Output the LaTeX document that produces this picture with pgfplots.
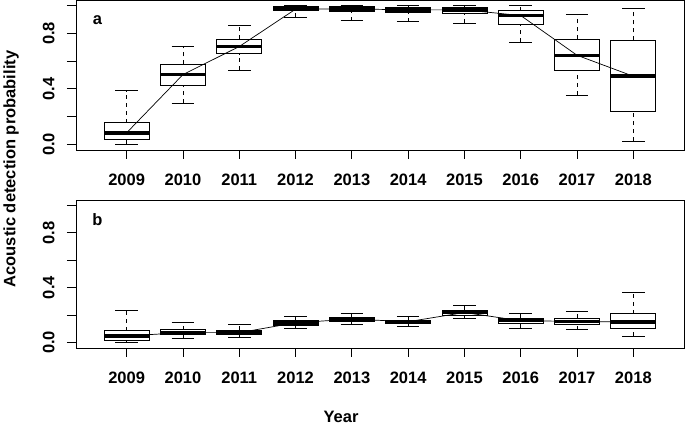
\documentclass[border=0pt]{standalone}
\usepackage{fontspec}
\setmainfont{Liberation Sans}
\usepackage{pgfplots}
\pgfplotsset{compat=1.18}
\usepgfplotslibrary{statistics}

\pgfplotsset{
  rpanel/.style={
    width=608pt, scale only axis,
    xmin=0.1, xmax=10.9, ymin=-0.04, ymax=1.04,
    xtick={1,...,10},
    xticklabels={2009,2010,2011,2012,2013,2014,2015,2016,2017,2018},
    ytick={0,0.2,0.4,0.6,0.8,1},
    yticklabels={0.0,,0.4,,0.8,},
    xtick pos=bottom, ytick pos=left,
    tick align=outside, major tick length=9pt,
    tick style={black, line width=0.8pt},
    axis line style={black, line width=0.8pt},
    tick label style={font=\bfseries\fontsize{16.5}{19}\selectfont},
    yticklabel style={rotate=90, anchor=south},
    xticklabel shift=11pt, yticklabel shift=9pt,
    boxplot/draw direction=y,
    boxplot/box extend=0.8,
    boxplot/whisker extend=0.4,
    boxplot/every box/.style={fill=white, line width=0.8pt},
    boxplot/every median/.style={line width=3.5pt},
    boxplot/draw/lower whisker/.code={
      \draw[line width=0.8pt, dash pattern=on 4pt off 4pt]
        (boxplot box cs:\pgfplotsboxplotvalue{lower whisker},0.5) --
        (boxplot box cs:\pgfplotsboxplotvalue{lower quartile},0.5);
      \draw[line width=0.8pt]
        (boxplot whisker cs:\pgfplotsboxplotvalue{lower whisker},0) --
        (boxplot whisker cs:\pgfplotsboxplotvalue{lower whisker},1);
    },
    boxplot/draw/upper whisker/.code={
      \draw[line width=0.8pt, dash pattern=on 4pt off 4pt]
        (boxplot box cs:\pgfplotsboxplotvalue{upper quartile},0.5) --
        (boxplot box cs:\pgfplotsboxplotvalue{upper whisker},0.5);
      \draw[line width=0.8pt]
        (boxplot whisker cs:\pgfplotsboxplotvalue{upper whisker},0) --
        (boxplot whisker cs:\pgfplotsboxplotvalue{upper whisker},1);
    },
  },
  rbox/.style={black, boxplot prepared={#1}},
}

\begin{document}
\begin{tikzpicture}[x=1pt, y=1pt, font=\bfseries\fontsize{16.5}{19}\selectfont]
\path[use as bounding box] (0,0) rectangle (685,425);

% panel a
\begin{axis}[rpanel, height=150pt, at={(76pt,275pt)}, anchor=south west]
\addplot[rbox={draw position=1, lower whisker=0.002, lower quartile=0.036, median=0.084, upper quartile=0.156, upper whisker=0.387}] coordinates {};
\addplot[rbox={draw position=2, lower whisker=0.298, lower quartile=0.423, median=0.503, upper quartile=0.577, upper whisker=0.705}] coordinates {};
\addplot[rbox={draw position=3, lower whisker=0.536, lower quartile=0.652, median=0.705, upper quartile=0.758, upper whisker=0.856}] coordinates {};
\addplot[rbox={draw position=4, lower whisker=0.916, lower quartile=0.962, median=0.974, upper quartile=0.993, upper whisker=1.0}] coordinates {};
\addplot[rbox={draw position=5, lower whisker=0.892, lower quartile=0.957, median=0.976, upper quartile=0.993, upper whisker=1.0}] coordinates {};
\addplot[rbox={draw position=6, lower whisker=0.883, lower quartile=0.950, median=0.969, upper quartile=0.988, upper whisker=1.0}] coordinates {};
\addplot[rbox={draw position=7, lower whisker=0.875, lower quartile=0.945, median=0.969, upper quartile=0.988, upper whisker=0.998}] coordinates {};
\addplot[rbox={draw position=8, lower whisker=0.738, lower quartile=0.866, median=0.928, upper quartile=0.962, upper whisker=0.998}] coordinates {};
\addplot[rbox={draw position=9, lower whisker=0.356, lower quartile=0.536, median=0.642, upper quartile=0.758, upper whisker=0.936}] coordinates {};
\addplot[rbox={draw position=10, lower whisker=0.024, lower quartile=0.240, median=0.491, upper quartile=0.750, upper whisker=0.976}] coordinates {};
\addplot[black, line width=0.7pt, no marks] coordinates {
  (1,0.084) (2,0.503) (3,0.705) (4,0.974) (5,0.976)
  (6,0.969) (7,0.969) (8,0.928) (9,0.642) (10,0.491)
};
\end{axis}

% panel b
\begin{axis}[rpanel, height=148pt, at={(76pt,77pt)}, anchor=south west]
\addplot[rbox={draw position=1, lower whisker=0.0, lower quartile=0.017, median=0.048, upper quartile=0.087, upper whisker=0.233}] coordinates {};
\addplot[rbox={draw position=2, lower whisker=0.029, lower quartile=0.058, median=0.072, upper quartile=0.094, upper whisker=0.149}] coordinates {};
\addplot[rbox={draw position=3, lower whisker=0.038, lower quartile=0.058, median=0.072, upper quartile=0.091, upper whisker=0.132}] coordinates {};
\addplot[rbox={draw position=4, lower whisker=0.101, lower quartile=0.125, median=0.144, upper quartile=0.159, upper whisker=0.188}] coordinates {};
\addplot[rbox={draw position=5, lower whisker=0.135, lower quartile=0.154, median=0.171, upper quartile=0.185, upper whisker=0.212}] coordinates {};
\addplot[rbox={draw position=6, lower whisker=0.115, lower quartile=0.137, median=0.152, upper quartile=0.164, upper whisker=0.190}] coordinates {};
\addplot[rbox={draw position=7, lower whisker=0.173, lower quartile=0.200, median=0.219, upper quartile=0.238, upper whisker=0.269}] coordinates {};
\addplot[rbox={draw position=8, lower whisker=0.106, lower quartile=0.142, median=0.159, upper quartile=0.176, upper whisker=0.212}] coordinates {};
\addplot[rbox={draw position=9, lower whisker=0.094, lower quartile=0.130, median=0.154, upper quartile=0.178, upper whisker=0.228}] coordinates {};
\addplot[rbox={draw position=10, lower whisker=0.046, lower quartile=0.103, median=0.149, upper quartile=0.209, upper whisker=0.363}] coordinates {};
\addplot[black, line width=0.7pt, no marks] coordinates {
  (1,0.048) (2,0.072) (3,0.072) (4,0.144) (5,0.171)
  (6,0.152) (7,0.219) (8,0.159) (9,0.154) (10,0.149)
};
\end{axis}

\node at (97.5,404.5) {a};
\node at (97.5,205) {b};
\node[rotate=90] at (11,256) {Acoustic detection probability};
\node[inner sep=0pt, anchor=base] at (341,2) {Year};
\end{tikzpicture}
\end{document}
